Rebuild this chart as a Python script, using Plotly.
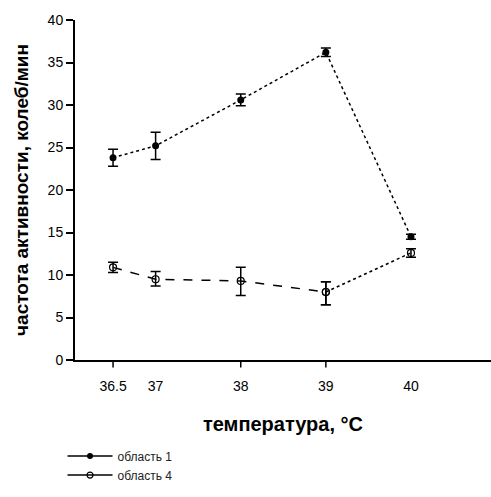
import plotly.graph_objects as go

temps = [36.5, 37, 38, 39, 40]
x_tick_vals = [36.5, 37, 38, 39, 40]
x_tick_text = ["36.5", "37", "38", "39", "40"]
x_tick_marks = [36.5, 38, 39]

area1 = [23.8, 25.2, 30.6, 36.2, 14.5]
area1_err = [1.0, 1.6, 0.7, 0.5, 0.3]

area4 = [10.9, 9.5, 9.3, 8.0, 12.6]
area4_err_plus = [0.6, 0.9, 1.6, 1.2, 0.5]
area4_err_minus = [0.6, 0.8, 1.7, 1.5, 0.5]

font_family = "Liberation Sans, Arial, sans-serif"

fig = go.Figure()

# область 1
fig.add_trace(go.Scatter(
    x=temps, y=area1, mode="lines+markers", showlegend=False,
    line=dict(color="black", width=1.5, dash="dot"),
    marker=dict(symbol="circle", size=7, color="black"),
    error_y=dict(type="data", array=area1_err, color="black", thickness=1.5, width=5),
))

# область 4 (dashed part)
fig.add_trace(go.Scatter(
    x=temps[:4], y=area4[:4], mode="lines+markers", showlegend=False,
    line=dict(color="black", width=1.5, dash="dash"),
    marker=dict(symbol="circle-open", size=7, color="black", line=dict(width=1.2)),
    error_y=dict(type="data", array=area4_err_plus[:4], arrayminus=area4_err_minus[:4],
                 color="black", thickness=1.5, width=5),
))
# область 4 (dotted last segment)
fig.add_trace(go.Scatter(
    x=temps[3:], y=area4[3:], mode="lines+markers", showlegend=False,
    line=dict(color="black", width=1.5, dash="dot"),
    marker=dict(symbol="circle-open", size=7, color="black", line=dict(width=1.2)),
    error_y=dict(type="data", array=area4_err_plus[3:], arrayminus=area4_err_minus[3:],
                 color="black", thickness=1.5, width=5),
))

# legend entries
fig.add_trace(go.Scatter(
    x=[None], y=[None], mode="lines+markers", name="область 1",
    line=dict(color="black", width=1.5),
    marker=dict(symbol="circle", size=6, color="black"),
))
fig.add_trace(go.Scatter(
    x=[None], y=[None], mode="lines+markers", name="область 4",
    line=dict(color="black", width=1.5),
    marker=dict(symbol="circle-open", size=6, color="black", line=dict(width=1.2)),
))

shapes = []
for t in x_tick_marks:
    shapes.append(dict(type="line", xref="x", yref="paper", x0=t, x1=t, y0=0, y1=-0.022,
                       line=dict(color="black", width=1.5)))

fig.update_layout(
    width=491, height=497,
    margin=dict(l=75, r=0, t=20, b=137),
    paper_bgcolor="white", plot_bgcolor="white",
    font=dict(family=font_family, color="black", size=14),
    shapes=shapes,
    legend=dict(x=-0.03, y=-0.24, xanchor="left", yanchor="top",
                font=dict(size=12, color="#222"), bgcolor="rgba(0,0,0,0)",
                tracegroupgap=0, itemwidth=45),
    xaxis=dict(
        range=[36.053, 40.94], tickvals=x_tick_vals, ticktext=x_tick_text,
        ticks="", showgrid=False, zeroline=False,
        showline=True, linecolor="black", linewidth=2,
        tickfont=dict(size=14), ticklabelstandoff=12,
        title=dict(text="<b>температура, °C</b>", font=dict(size=20), standoff=24),
    ),
    yaxis=dict(
        range=[0, 40], tickvals=[0, 5, 10, 15, 20, 25, 30, 35, 40],
        ticks="outside", ticklen=7, tickwidth=1.5, tickcolor="black",
        showgrid=False, zeroline=False,
        showline=True, linecolor="black", linewidth=2,
        tickfont=dict(size=14),
        title=dict(text="<b>частота активности, колеб/мин</b>", font=dict(size=19), standoff=14),
    ),
)

fig.write_html("out.html")
